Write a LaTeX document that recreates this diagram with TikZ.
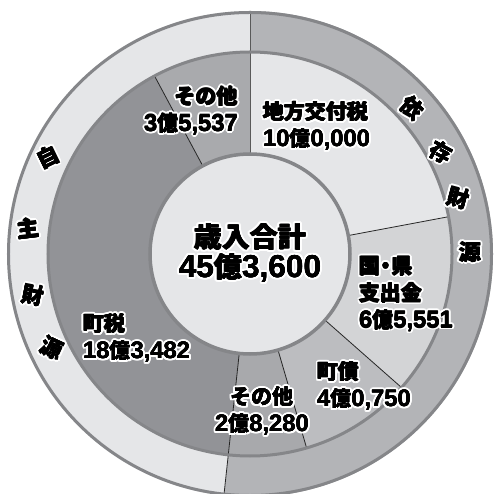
\documentclass[tikz,border=0pt]{standalone}
\usepackage{fontspec}
\newfontfamily\jp{Noto Sans CJK JP}
\newfontfamily\numfont{Liberation Sans}[Scale=1.13]
\usetikzlibrary{calc}
\definecolor{ringL}{HTML}{E5E6E8}
\definecolor{ringD}{HTML}{B3B4B7}
\definecolor{cA}{HTML}{E5E6E8}
\definecolor{cB}{HTML}{D3D4D6}
\definecolor{cC}{HTML}{BCBDC0}
\definecolor{cD}{HTML}{A8A9AC}
\definecolor{cE}{HTML}{929397}
\definecolor{cF}{HTML}{A9AAAD}
\definecolor{cCenter}{HTML}{E5E6E8}
\definecolor{edgeC}{HTML}{858689}
\newcommand{\nm}[1]{{\numfont\bfseries #1}}
\newcommand{\ringsector}[5]{\fill[#1] (#2:#4) arc[start angle=#2,end angle=#3,radius=#4] -- (#3:#5) arc[start angle=#3,end angle=#2,radius=#5] -- cycle;}
\newcommand{\halonode}[4]{%
  \foreach \ha in {0,22.5,...,337.5}{\node[#2,text=white] at ($#3+(\ha:2.2)$) {#4};}
  \foreach \ha in {0,90,180,270}{\node[#2] at ($#3+(\ha:0.22)$) {#4};}
  \node[#2] (#1) at #3 {#4};}
\tikzset{
  lab/.style={font=\jp\bfseries\fontsize{21}{27}\selectfont, inner sep=0pt, text=black},
  big/.style={font=\jp\bfseries\fontsize{28}{30}\selectfont, inner sep=0pt, text=black, align=center},
  ringtxt/.style={font=\jp\bfseries\fontsize{22}{22}\selectfont, inner sep=0pt, text=black},
  sep/.style={draw=black!85, line width=0.8pt},
  edge/.style={draw=edgeC, line width=3pt}
}
\begin{document}
\begin{tikzpicture}[x=1pt,y=1pt]
\useasboundingbox (-250,-240) rectangle (243,254);
\clip (-250,-240) rectangle (243,254);
\fill[white] (-250,-240) rectangle (243,254);
% angles
\def\Aa{90}
\def\Ab{10.635}
\def\Ac{-41.39}
\def\Ad{-73.731}
\def\Ae{-96.175}
\def\Af{-241.796}
% outer ring
\ringsector{ringD}{\Aa}{\Ae}{243}{202}
\ringsector{ringL}{90}{263.825}{243}{202}
% middle ring sectors
\ringsector{cA}{\Aa}{\Ab}{202}{100}
\ringsector{cB}{\Ab}{\Ac}{202}{100}
\ringsector{cC}{\Ac}{\Ad}{202}{100}
\ringsector{cD}{\Ad}{\Ae}{202}{100}
\ringsector{cE}{\Ae}{\Af}{202}{100}
\ringsector{cF}{\Af}{-270}{202}{100}
\fill[cCenter] (0,0) circle[radius=100];
% separators
\draw[sep, draw=black!65] (90:100) -- (90:243);
\draw[sep] (\Ae:100) -- (\Ae:245);
\draw[sep] (\Ab:100) -- (\Ab:202);
\draw[sep] (\Ac:100) -- (\Ac:202);
\draw[sep] (\Ad:100) -- (\Ad:202);
\draw[sep] (\Af:100) -- (\Af:202);
% circles
\draw[edge] (0,0) circle[radius=241.5];
\draw[edge] (0,0) circle[radius=202];
\draw[edge, line width=3.5pt] (0,0) circle[radius=100];
% labels
\halonode{total}{big}{(0,1)}{歳入合計\\\nm{45}億\nm{3,600}}
\halonode{chihou}{lab, anchor=west, align=left}{(13,128)}{地方交付税\\\nm{10}億\nm{0,000}}
\halonode{kuni}{lab, anchor=west, align=left}{(109,-40)}{国\kern-0.22em・\kern-0.22em県\\支出金\\\nm{6}億\nm{5,551}}
\halonode{chosai}{lab, anchor=west, align=left}{(67,-132)}{町債\\\nm{4}億\nm{0,750}}
\halonode{sonotaB}{lab, align=center}{(12,-157)}{その他\\\nm{2}億\nm{8,280}}
\halonode{chozei}{lab, anchor=west, align=left}{(-167,-84)}{町税\\\nm{18}億\nm{3,482}}
\halonode{sonotaT}{lab, anchor=east, align=right}{(-12,143.5)}{その他\\\nm{3}億\nm{5,537}}
% ring texts
\halonode{i1}{ringtxt, rotate=-42}{(162,146)}{依}
\halonode{i2}{ringtxt, rotate=-28}{(191,102)}{存}
\halonode{i3}{ringtxt, rotate=-15}{(208,56)}{財}
\halonode{i4}{ringtxt, rotate=0}{(220,2)}{源}
\halonode{j1}{ringtxt, rotate=26}{(-202,97)}{自}
\halonode{j2}{ringtxt, rotate=7}{(-222,26)}{主}
\halonode{j3}{ringtxt, rotate=-11}{(-217,-41)}{財}
\halonode{j4}{ringtxt, rotate=-25}{(-198,-94)}{源}
\end{tikzpicture}
\end{document}
